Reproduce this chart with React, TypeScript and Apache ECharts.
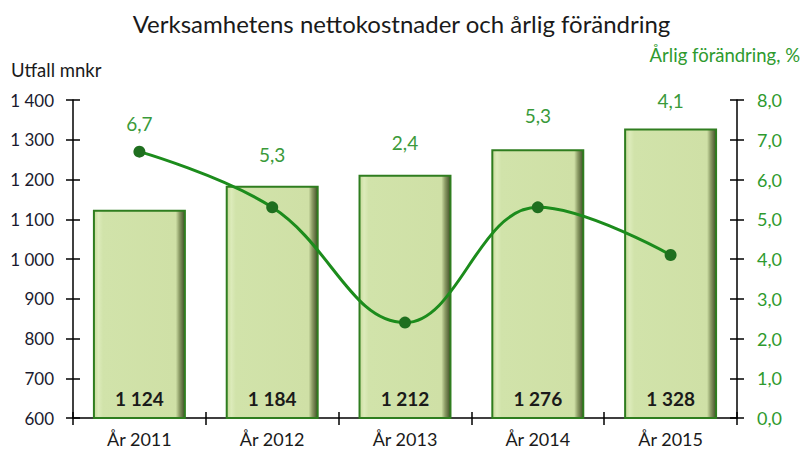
import React, { useEffect, useRef } from "react";
import * as echarts from "echarts";

const categories = ["År 2011", "År 2012", "År 2013", "År 2014", "År 2015"];
const costValues = [1124, 1184, 1212, 1276, 1328];
const changeValues = [6.7, 5.3, 2.4, 5.3, 4.1];
// vertical label offsets (px) for the change labels, as placed in the reference
const changeLabelOffsets = [-28, -53, -180, -92, -155];

const FONT = "Lato, 'Open Sans', sans-serif";

const fmtThousands = (v: number) => {
  const s = String(Math.round(v));
  return s.replace(/\B(?=(\d{3})+(?!\d))/g, " ");
};
const fmtComma1 = (v: number) => v.toFixed(1).replace(".", ",");

export default function App() {
  const ref = useRef<HTMLDivElement>(null);
  useEffect(() => {
    if (!ref.current) return;
    const chart = echarts.init(ref.current, null, { renderer: "svg" });
    const barFill = new echarts.graphic.LinearGradient(1, 0, 0, 0, [
      { offset: 0, color: "#3f4d26" },
      { offset: 0.06, color: "#8c9c66" },
      { offset: 0.1, color: "#cfe0a6" },
      { offset: 0.9, color: "#d1e3aa" },
      { offset: 0.95, color: "#dcebba" },
      { offset: 1, color: "#c6da98" },
    ]);
    const tickStyle = { color: "#000", width: 1.5 };
    chart.setOption({
      animation: false,
      backgroundColor: "#ffffff",
      textStyle: { fontFamily: FONT },
      title: {
        text: "Verksamhetens nettokostnader och årlig förändring",
        left: "center",
        top: 6,
        textStyle: { fontFamily: FONT, fontSize: 24, fontWeight: "normal", color: "#1a1a1a" },
      },
      graphic: [
        {
          type: "text",
          left: 11,
          top: 60,
          style: { text: "Utfall mnkr", fontFamily: FONT, fontSize: 18.5, fill: "#1a1a1a" },
        },
        {
          type: "text",
          right: 3,
          top: 45,
          style: { text: "Årlig förändring, %", fontFamily: FONT, fontSize: 18.5, fill: "#2e9a2e" },
        },
      ],
      grid: { left: 73, right: 66, top: 100, bottom: 36, containLabel: false },
      xAxis: [
        {
          type: "category",
          data: categories,
          axisLine: { lineStyle: { color: "#000", width: 1.5 } },
          axisTick: { show: true, length: 7, lineStyle: tickStyle },
          axisLabel: { color: "#1a1a1a", fontSize: 18, fontFamily: FONT, margin: 12 },
        },
        {
          type: "category",
          data: categories,
          position: "bottom",
          axisLine: { show: false },
          axisTick: { show: true, inside: true, length: 6, lineStyle: tickStyle },
          axisLabel: { show: false },
        },
      ],
      yAxis: [
        {
          type: "value",
          min: 600,
          max: 1400,
          interval: 100,
          splitLine: { show: false },
          axisLine: { show: true, lineStyle: { color: "#000", width: 1.5 } },
          axisTick: { show: true, length: 7, lineStyle: tickStyle },
          axisLabel: { color: "#1a1a2e", fontSize: 17, fontFamily: FONT, margin: 19, formatter: fmtThousands },
        },
        {
          type: "value",
          min: 0,
          max: 8,
          interval: 1,
          position: "right",
          splitLine: { show: false },
          axisLine: { show: true, lineStyle: { color: "#000", width: 1.5 } },
          axisTick: { show: true, length: 7, lineStyle: tickStyle },
          axisLabel: { color: "#2e9a2e", fontSize: 18, fontFamily: FONT, margin: 20, formatter: fmtComma1 },
        },
        {
          type: "value",
          min: 600,
          max: 1400,
          interval: 100,
          position: "left",
          splitLine: { show: false },
          axisLine: { show: false },
          axisTick: { show: true, inside: true, length: 7, lineStyle: tickStyle },
          axisLabel: { show: false },
        },
        {
          type: "value",
          min: 0,
          max: 8,
          interval: 1,
          position: "right",
          splitLine: { show: false },
          axisLine: { show: false },
          axisTick: { show: true, inside: true, length: 7, lineStyle: tickStyle },
          axisLabel: { show: false },
        },
      ],
      series: [
        {
          type: "bar",
          yAxisIndex: 0,
          data: costValues,
          barCategoryGap: "30%",
          itemStyle: { color: barFill, borderColor: "#2f7d1f", borderWidth: 2 },
          label: {
            show: true,
            position: "insideBottom",
            distance: 11,
            formatter: (p: any) => fmtThousands(p.value),
            fontFamily: FONT,
            fontSize: 19,
            fontWeight: "bold",
            color: "#1a1a1a",
          },
        },
        {
          type: "line",
          yAxisIndex: 1,
          smooth: 0.4,
          data: changeValues.map((v, i) => ({
            value: v,
            label: { offset: [0, changeLabelOffsets[i]] },
          })),
          symbol: "circle",
          symbolSize: 12,
          lineStyle: { color: "#1c8c1c", width: 3 },
          itemStyle: { color: "#1f6f1f" },
          label: {
            show: true,
            position: "inside",
            formatter: (p: any) => fmtComma1(p.value),
            fontFamily: FONT,
            fontSize: 19,
            color: "#3a9a3a",
          },
          z: 5,
        },
      ],
    });
    return () => chart.dispose();
  }, []);
  return <div ref={ref} style={{ position: "fixed", left: 0, top: 0, width: 803, height: 454 }} />;
}
